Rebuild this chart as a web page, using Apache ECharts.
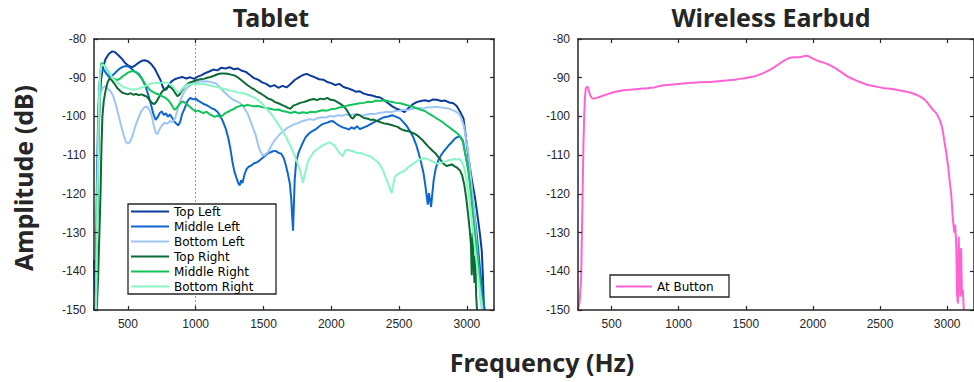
<!DOCTYPE html>
<html>
<head>
<meta charset="utf-8">
<script src="https://cdn.jsdelivr.net/npm/echarts@6.0.0/dist/echarts.min.js"></script>
<style>html,body{margin:0;padding:0;background:#fff}#c{width:974px;height:382px}</style>
</head>
<body>
<div id="c"></div>
<script>
const freqTicks = [500, 1000, 1500, 2000, 2500, 3000];
const seriesNamesTablet = ['Top Left', 'Middle Left', 'Bottom Left', 'Top Right', 'Middle Right', 'Bottom Right'];
const seriesNameEarbud = 'At Button';

const topLeft = [[250,-150],[262,-146],[272,-128],[282,-108],[292,-96],[302,-90.5],[315,-87.5],[335,-85.2],[360,-83.8],[385,-83.2],[405,-83.4],[430,-84.2],[455,-85.1],[480,-86.2],[505,-86.9],[530,-87.3],[555,-86.8],[580,-86.1],[605,-85.6],[625,-85.5],[650,-85.8],[675,-86.6],[700,-87.8],[720,-89.2],[740,-90.6],[755,-92.2],[770,-93.2],[785,-93.0],[800,-92.0],[820,-91.0],[845,-90.4],[870,-90.1],[900,-89.8],[930,-90.2],[960,-89.9],[990,-90.3],[1010,-89.8],[1040,-89.4],[1070,-88.8],[1100,-88.4],[1130,-87.9],[1160,-88.1],[1190,-87.4],[1220,-87.6],[1250,-87.3],[1280,-87.8],[1310,-87.6],[1340,-88.2],[1370,-88.5],[1400,-89.3],[1430,-90.1],[1460,-90.5],[1490,-91.2],[1520,-91.6],[1550,-92.3],[1580,-91.9],[1610,-92.6],[1640,-92.1],[1670,-92.5],[1700,-91.6],[1730,-90.6],[1760,-89.9],[1790,-89.3],[1820,-89.0],[1850,-89.5],[1880,-89.9],[1910,-90.4],[1940,-90.5],[1970,-91.1],[2000,-91.4],[2030,-91.9],[2060,-91.6],[2090,-92.4],[2120,-92.7],[2150,-93.1],[2180,-93.6],[2210,-93.5],[2240,-94.1],[2270,-94.4],[2300,-94.6],[2330,-94.9],[2360,-95.1],[2390,-95.8],[2420,-96.6],[2450,-97.4],[2480,-98.0],[2510,-98.3],[2540,-98.9],[2570,-97.8],[2600,-96.9],[2630,-96.3],[2660,-96.0],[2690,-95.8],[2720,-96.1],[2750,-95.6],[2780,-95.7],[2810,-96.0],[2840,-95.9],[2870,-96.4],[2900,-96.6],[2925,-97.3],[2950,-98.8],[2975,-100.5],[2995,-106],[3015,-111.5],[3035,-116],[3060,-121],[3080,-126],[3095,-130],[3110,-134.8],[3118,-141],[3125,-148.6],[3130,-150]];

const middleLeft = [[250,-137],[256,-149],[264,-138],[272,-115],[282,-98],[292,-91],[305,-88.2],[320,-87.8],[340,-88.9],[360,-89.8],[380,-89.6],[405,-88.8],[430,-87.9],[455,-87.3],[480,-87.0],[505,-87.1],[530,-87.8],[555,-88.5],[580,-89.0],[605,-90.3],[630,-92.2],[655,-95.0],[675,-97.6],[690,-99.6],[705,-100.9],[720,-100.2],[735,-99.1],[750,-98.7],[765,-99.6],[780,-99.2],[795,-100.1],[810,-99.5],[825,-100.3],[840,-101.2],[855,-101.8],[870,-102.3],[885,-101.5],[900,-99.4],[920,-97.8],[940,-96.0],[960,-95.2],[980,-95.6],[1000,-95.4],[1020,-96.0],[1040,-96.4],[1060,-96.8],[1080,-97.1],[1100,-97.5],[1120,-97.9],[1140,-98.2],[1160,-98.8],[1180,-99.8],[1200,-101.2],[1220,-103.0],[1240,-105.5],[1255,-108.2],[1270,-111.5],[1285,-114.2],[1300,-115.8],[1315,-117.3],[1325,-117.8],[1335,-116.5],[1345,-117.2],[1360,-115.0],[1375,-113.6],[1390,-113.0],[1410,-112.7],[1430,-112.1],[1450,-111.9],[1470,-111.4],[1490,-110.8],[1510,-110.2],[1530,-109.6],[1550,-109.3],[1570,-109.0],[1590,-108.9],[1610,-109.4],[1630,-109.6],[1650,-110.8],[1665,-112.6],[1680,-114.8],[1695,-117.5],[1705,-121.5],[1712,-126],[1718,-129.5],[1723,-124],[1730,-116.5],[1740,-112.0],[1755,-109.8],[1770,-108.4],[1790,-106.8],[1810,-105.4],[1830,-104.6],[1850,-104.0],[1870,-103.6],[1890,-103.2],[1910,-102.6],[1930,-102.1],[1950,-101.8],[1970,-101.6],[1990,-101.3],[2010,-101.2],[2030,-101.7],[2050,-102.2],[2070,-102.6],[2090,-102.9],[2110,-103.1],[2130,-103.4],[2150,-102.8],[2170,-103.2],[2190,-102.5],[2210,-103.3],[2230,-103.0],[2250,-102.7],[2270,-102.4],[2290,-102.0],[2310,-101.6],[2330,-101.2],[2350,-100.9],[2370,-100.5],[2390,-100.2],[2420,-100.0],[2450,-99.7],[2480,-100.1],[2505,-100.5],[2530,-101.4],[2555,-102.4],[2580,-103.8],[2605,-105.4],[2625,-107.2],[2645,-109.6],[2665,-112.3],[2680,-114.6],[2695,-118.2],[2705,-121.0],[2712,-122.8],[2720,-119.8],[2728,-121.5],[2736,-123.4],[2745,-120.0],[2755,-116.5],[2770,-113.5],[2790,-111.3],[2810,-110.0],[2830,-109.0],[2850,-108.2],[2870,-107.3],[2890,-106.6],[2910,-105.8],[2930,-105.3],[2950,-105.2],[2970,-106.2],[2990,-110],[3013,-114],[3040,-121],[3062,-127],[3080,-133],[3099,-140],[3112,-145],[3124,-148.6],[3132,-150]];

const bottomLeft = [[250,-146],[258,-150],[266,-140],[275,-118],[285,-100],[298,-94],[315,-92.6],[330,-92.2],[350,-92.8],[370,-93.4],[390,-94.6],[410,-96.8],[430,-99.6],[450,-102.4],[470,-105.0],[485,-106.6],[500,-107.0],[515,-106.6],[530,-105.4],[545,-103.7],[560,-102.0],[580,-100.2],[600,-98.6],[620,-97.7],[640,-97.4],[660,-98.4],[675,-99.8],[690,-102.2],[705,-104.2],[718,-104.6],[732,-103.4],[750,-102.4],[770,-101.6],[790,-101.9],[810,-101.2],[830,-101.5],[850,-100.3],[865,-98.4],[880,-96.5],[900,-94.7],[920,-93.3],[940,-92.5],[960,-92.0],[980,-91.6],[1000,-91.3],[1030,-91.0],[1060,-90.9],[1090,-91.0],[1120,-91.2],[1150,-91.5],[1175,-92.3],[1200,-93.3],[1225,-94.2],[1250,-95.0],[1275,-95.7],[1300,-96.1],[1325,-96.5],[1345,-97.2],[1365,-98.2],[1385,-99.4],[1405,-101.3],[1425,-103.2],[1445,-105.1],[1460,-107.3],[1475,-108.9],[1490,-109.9],[1505,-110.1],[1520,-109.6],[1535,-109.2],[1550,-108.1],[1570,-106.8],[1590,-105.8],[1610,-105.0],[1630,-104.3],[1650,-103.7],[1670,-103.1],[1690,-102.7],[1710,-102.3],[1730,-101.9],[1750,-101.8],[1780,-101.3],[1810,-101.0],[1840,-100.7],[1870,-100.9],[1900,-100.4],[1930,-100.2],[1960,-100.3],[1990,-99.9],[2020,-100.0],[2050,-99.7],[2080,-99.8],[2110,-99.5],[2140,-99.7],[2170,-99.4],[2200,-99.6],[2230,-99.8],[2260,-99.5],[2290,-99.3],[2320,-99.4],[2350,-99.1],[2380,-99.0],[2410,-98.8],[2440,-98.9],[2470,-98.6],[2500,-98.5],[2530,-98.3],[2560,-98.4],[2590,-98.1],[2620,-97.9],[2650,-97.8],[2680,-98.0],[2710,-97.6],[2740,-97.7],[2770,-97.5],[2800,-97.6],[2830,-97.8],[2860,-97.9],[2890,-98.3],[2915,-98.7],[2940,-99.2],[2960,-100.5],[2978,-102.5],[2995,-106],[3013,-110],[3030,-116],[3050,-123],[3070,-132],[3087,-140],[3099,-147],[3112,-150]];

const topRight = [[250,-150],[270,-150],[280,-142],[290,-130],[298,-120],[305,-108],[312,-100],[322,-96],[335,-93.4],[350,-91.2],[365,-90.2],[380,-90.6],[400,-91.5],[420,-92.6],[440,-93.3],[460,-93.9],[480,-94.1],[500,-94.3],[520,-94.0],[540,-94.4],[560,-94.2],[580,-94.5],[600,-94.3],[620,-94.6],[640,-94.9],[660,-95.8],[680,-96.6],[695,-96.8],[710,-96.2],[730,-95.0],[750,-93.7],[770,-93.0],[790,-92.5],[810,-92.3],[830,-92.9],[850,-94.0],[865,-94.8],[880,-94.4],[900,-93.2],[920,-92.2],[940,-91.6],[960,-91.2],[985,-90.9],[1010,-90.6],[1035,-90.4],[1060,-90.3],[1085,-90.0],[1110,-89.8],[1135,-89.5],[1160,-89.1],[1185,-88.9],[1210,-88.9],[1235,-89.0],[1260,-89.2],[1285,-89.4],[1310,-89.9],[1335,-90.6],[1360,-91.3],[1385,-92.0],[1410,-92.6],[1435,-93.1],[1460,-93.7],[1485,-94.2],[1510,-94.8],[1535,-95.4],[1560,-95.7],[1585,-96.3],[1610,-96.6],[1635,-97.0],[1660,-97.4],[1680,-97.8],[1700,-98.0],[1720,-97.2],[1745,-96.9],[1770,-96.5],[1795,-96.3],[1820,-96.0],[1845,-95.7],[1870,-95.5],[1895,-95.8],[1920,-95.4],[1945,-95.6],[1970,-95.2],[1995,-95.7],[2020,-95.8],[2045,-96.3],[2070,-96.8],[2095,-97.5],[2115,-98.4],[2130,-99.3],[2145,-100.2],[2160,-100.6],[2175,-99.8],[2190,-99.5],[2210,-99.7],[2230,-100.2],[2250,-100.5],[2270,-100.6],[2290,-100.9],[2310,-100.8],[2330,-101.1],[2350,-101.3],[2370,-101.6],[2390,-101.8],[2410,-101.9],[2430,-102.1],[2450,-102.3],[2470,-102.5],[2490,-102.7],[2510,-103.2],[2530,-103.5],[2550,-103.7],[2570,-103.8],[2590,-104.1],[2610,-104.4],[2630,-104.8],[2650,-105.4],[2670,-106.0],[2690,-106.8],[2710,-107.6],[2730,-108.3],[2750,-109.0],[2770,-109.6],[2790,-110.5],[2810,-111.4],[2830,-112.3],[2850,-112.8],[2870,-112.6],[2890,-112.4],[2910,-112.9],[2930,-113.3],[2950,-114.0],[2965,-115.2],[2980,-117.5],[2995,-121],[3008,-125],[3020,-129],[3030,-133],[3036,-141],[3042,-130],[3050,-138],[3056,-143],[3062,-136],[3068,-146],[3075,-150]];

const middleRight = [[250,-150],[265,-150],[273,-130],[282,-108],[290,-94],[298,-88],[305,-86.2],[320,-86.5],[340,-87.6],[360,-88.8],[380,-89.8],[400,-90.3],[420,-90.6],[440,-90.3],[460,-89.7],[480,-89.2],[500,-88.7],[520,-88.4],[540,-88.3],[560,-88.6],[580,-89.3],[600,-90.2],[620,-91.2],[640,-92.2],[660,-93.1],[680,-93.6],[700,-94.0],[720,-94.2],[740,-94.6],[760,-94.9],[780,-95.3],[800,-95.9],[815,-96.6],[830,-97.5],[845,-98.3],[860,-97.8],[880,-96.9],[900,-96.1],[920,-96.4],[940,-97.0],[960,-97.6],[980,-98.2],[1000,-98.7],[1020,-98.5],[1040,-98.9],[1060,-99.1],[1080,-98.8],[1100,-99.4],[1120,-99.7],[1140,-100.1],[1160,-99.8],[1180,-100.2],[1200,-99.7],[1220,-99.1],[1240,-98.8],[1260,-98.4],[1280,-98.1],[1300,-97.6],[1320,-97.4],[1340,-97.1],[1360,-97.3],[1380,-97.0],[1400,-97.2],[1430,-97.4],[1460,-97.3],[1490,-97.6],[1520,-97.8],[1550,-98.0],[1580,-98.3],[1610,-98.2],[1640,-98.6],[1670,-98.8],[1700,-99.1],[1730,-98.8],[1760,-99.2],[1790,-98.9],[1820,-99.1],[1850,-98.8],[1880,-98.9],[1910,-98.6],[1940,-98.4],[1970,-98.5],[2000,-98.1],[2030,-98.0],[2060,-97.7],[2090,-97.5],[2120,-97.2],[2150,-97.0],[2180,-96.8],[2210,-96.6],[2240,-96.5],[2270,-96.2],[2300,-96.3],[2330,-95.9],[2360,-96.0],[2390,-95.8],[2420,-96.1],[2450,-96.3],[2480,-96.5],[2510,-96.6],[2540,-96.9],[2570,-97.2],[2600,-97.5],[2630,-97.9],[2660,-98.3],[2690,-98.6],[2720,-99.3],[2750,-99.9],[2780,-100.6],[2810,-101.2],[2840,-102.0],[2870,-102.8],[2900,-103.6],[2930,-104.4],[2950,-105.2],[2970,-106.5],[2990,-110],[3010,-114],[3030,-120],[3046,-126],[3065,-132],[3083,-138],[3098,-143],[3108,-146.6],[3118,-150]];

const bottomRight = [[250,-150],[265,-150],[272,-132],[280,-110],[288,-95],[296,-89],[305,-86.8],[318,-86.6],[335,-87.4],[355,-88.3],[375,-89.4],[395,-90.3],[415,-91.0],[435,-91.6],[455,-92.1],[475,-92.5],[495,-92.7],[515,-92.9],[535,-93.1],[555,-93.0],[575,-92.9],[595,-92.6],[615,-92.4],[635,-92.0],[655,-91.7],[675,-91.5],[695,-91.4],[715,-91.3],[735,-91.4],[755,-91.2],[775,-91.3],[795,-91.3],[815,-91.8],[835,-92.4],[855,-93.3],[870,-93.9],[885,-93.6],[900,-92.9],[920,-92.2],[940,-91.8],[960,-91.7],[985,-91.6],[1010,-91.6],[1035,-91.7],[1060,-91.6],[1085,-91.9],[1110,-92.0],[1135,-92.3],[1160,-92.4],[1185,-92.7],[1210,-92.9],[1235,-93.1],[1260,-93.4],[1285,-93.5],[1310,-93.8],[1335,-93.9],[1360,-94.1],[1385,-94.4],[1410,-94.8],[1435,-95.2],[1460,-95.8],[1480,-96.4],[1500,-97.1],[1520,-97.9],[1540,-98.7],[1560,-99.5],[1580,-100.5],[1600,-101.6],[1620,-102.6],[1640,-103.7],[1660,-104.9],[1680,-106.3],[1700,-107.7],[1720,-109.3],[1740,-111.0],[1755,-112.5],[1770,-114.0],[1783,-116.0],[1792,-117.2],[1800,-115.6],[1812,-113.9],[1825,-112.0],[1840,-110.7],[1855,-110.1],[1870,-109.2],[1890,-108.6],[1910,-108.1],[1930,-107.7],[1950,-107.3],[1970,-106.9],[1990,-106.7],[2010,-107.2],[2025,-107.5],[2040,-108.4],[2055,-109.2],[2070,-109.8],[2085,-110.3],[2100,-108.9],[2120,-108.6],[2140,-108.8],[2160,-109.0],[2180,-109.3],[2200,-109.5],[2220,-109.4],[2240,-109.8],[2260,-110.0],[2280,-110.2],[2300,-110.6],[2320,-111.2],[2340,-111.7],[2360,-112.6],[2375,-113.5],[2390,-114.7],[2405,-116.1],[2420,-117.4],[2435,-118.8],[2445,-119.8],[2455,-118.0],[2468,-115.6],[2485,-115.1],[2505,-114.6],[2525,-114.3],[2545,-113.9],[2565,-113.2],[2585,-112.7],[2605,-112.2],[2625,-111.7],[2645,-111.2],[2665,-111.0],[2685,-110.8],[2705,-110.9],[2725,-111.3],[2745,-111.6],[2765,-111.9],[2785,-112.2],[2805,-112.0],[2825,-111.8],[2845,-111.6],[2865,-111.3],[2885,-111.2],[2905,-111.0],[2925,-111.1],[2945,-111.0],[2965,-111.8],[2985,-113.8],[3003,-118],[3022,-122.4],[3040,-128],[3058,-133.6],[3076,-139],[3095,-144.8],[3108,-148],[3115,-150]];

const atButton = [[250,-150],[262,-148],[274,-141.4],[279,-130],[284,-120.7],[290,-108],[296,-100],[302,-95],[308,-92.8],[316,-92.3],[324,-92.5],[332,-93.5],[342,-94.6],[355,-95.3],[370,-95.4],[390,-95.2],[415,-94.9],[440,-94.6],[465,-94.3],[490,-94.0],[520,-93.7],[550,-93.5],[580,-93.3],[610,-93.2],[640,-93.1],[670,-93.0],[700,-92.9],[730,-92.8],[760,-92.8],[790,-92.6],[820,-92.5],[850,-92.2],[880,-92.0],[910,-91.9],[940,-91.8],[970,-91.7],[1000,-91.6],[1030,-91.5],[1060,-91.4],[1090,-91.3],[1120,-91.3],[1150,-91.2],[1180,-91.2],[1210,-91.1],[1240,-91.1],[1270,-91.0],[1300,-90.9],[1330,-90.8],[1360,-90.7],[1390,-90.6],[1420,-90.5],[1450,-90.3],[1480,-90.2],[1510,-90.0],[1540,-89.8],[1570,-89.6],[1600,-89.2],[1630,-88.8],[1660,-88.3],[1690,-87.8],[1720,-87.1],[1750,-86.4],[1780,-85.7],[1810,-85.1],[1840,-84.8],[1870,-84.7],[1900,-84.7],[1920,-84.6],[1945,-84.3],[1965,-84.4],[1990,-84.9],[2020,-85.4],[2050,-85.8],[2080,-86.1],[2110,-86.5],[2140,-87.0],[2170,-87.6],[2200,-88.3],[2230,-89.0],[2260,-89.7],[2290,-90.2],[2320,-90.7],[2350,-91.1],[2380,-91.5],[2410,-91.9],[2440,-92.1],[2470,-92.3],[2500,-92.5],[2530,-92.7],[2560,-92.8],[2590,-92.9],[2620,-93.1],[2650,-93.3],[2680,-93.5],[2710,-93.7],[2740,-94.0],[2770,-94.4],[2800,-94.9],[2830,-95.6],[2850,-96.3],[2870,-97.2],[2885,-97.9],[2900,-98.5],[2920,-99.2],[2945,-100.9],[2960,-102.5],[2970,-104.3],[2982,-107],[2994,-109.5],[3008,-113],[3018,-116.4],[3030,-120],[3043,-126.7],[3054,-130],[3060,-128],[3068,-133.6],[3074,-146],[3080,-148.3],[3086,-131],[3092,-140],[3098,-146.6],[3104,-134],[3110,-146],[3117,-144.8],[3124,-150]];

const tabletColors = ['#0b3c9d', '#0f66cc', '#9cc7f4', '#0b6b34', '#12c45c', '#8cf5c6'];
const earbudColor = '#ff63d2';

const AX = '#262626';
const tickFont = {fontFamily: 'Liberation Sans, Arial, sans-serif', fontSize: 12, color: AX};

function xAx(grid, pos) {
  const bottom = pos === 'bottom';
  return {
    type: 'value', gridIndex: grid, position: pos, min: 250, max: 3200, z: 8,
    axisLine: {onZero: false, lineStyle: {color: AX, width: 1.5}},
    axisTick: {inside: true, length: 4, customValues: freqTicks, lineStyle: {color: AX, width: 1.2}},
    axisLabel: Object.assign({show: bottom, customValues: freqTicks, margin: 8, formatter: v => String(v)}, tickFont),
    splitLine: {show: false}
  };
}
function yAx(grid, pos) {
  const left = pos === 'left';
  return {
    type: 'value', gridIndex: grid, position: pos, min: -150, max: -80, interval: 10, z: 8,
    axisLine: {onZero: false, lineStyle: {color: AX, width: 1.5}},
    axisTick: {inside: true, length: 4, lineStyle: {color: AX, width: 1.2}},
    axisLabel: Object.assign({show: left, margin: 8, formatter: v => String(v)}, tickFont),
    splitLine: {show: false}
  };
}
function line(name, data, ax, color) {
  return {
    type: 'line', name: name, data: data, xAxisIndex: ax, yAxisIndex: ax,
    symbol: 'none', showSymbol: false, animation: false,
    lineStyle: {width: 2, color: color}, itemStyle: {color: color}, z: 2
  };
}

const tabletData = [topLeft, middleLeft, bottomLeft, topRight, middleRight, bottomRight];
const series = tabletData.map((d, i) => line(seriesNamesTablet[i], d, 0, tabletColors[i]));
series[0].markLine = {
  silent: true, symbol: ['none', 'none'], animation: false, z: 1,
  label: {show: false},
  lineStyle: {type: [2, 2], color: '#9a9a9a', width: 1},
  data: [{xAxis: 1000}]
};
series.push(line(seriesNameEarbud, atButton, 2, earbudColor));

const legendText = {fontFamily: 'DejaVu Sans, sans-serif', fontSize: 12, color: '#000', lineHeight: 15};

const chart = echarts.init(document.getElementById('c'), null, {renderer: 'svg', width: 974, height: 382});
chart.setOption({
  animation: false,
  backgroundColor: '#fff',
  grid: [
    {left: 94, top: 39, width: 400, height: 271},
    {left: 578, top: 39, width: 400, height: 271}
  ],
  xAxis: [xAx(0, 'bottom'), xAx(0, 'top'), xAx(1, 'bottom'), xAx(1, 'top')],
  yAxis: [yAx(0, 'left'), yAx(0, 'right'), yAx(1, 'left'), yAx(1, 'right')],
  legend: [
    {
      data: seriesNamesTablet, orient: 'vertical', left: 128, top: 204, z: 10,
      icon: 'rect', itemWidth: 38, itemHeight: 2, itemGap: 0,
      padding: [0, 3, 0, 3], backgroundColor: '#fff', borderColor: AX, borderWidth: 1.3,
      selectedMode: false, textStyle: Object.assign({width: 99}, legendText)
    },
    {
      data: [seriesNameEarbud], orient: 'vertical', left: 610, top: 275, z: 10,
      icon: 'rect', itemWidth: 36, itemHeight: 2, itemGap: 0,
      padding: [4, 2, 3, 6], backgroundColor: '#fff', borderColor: AX, borderWidth: 1.3,
      selectedMode: false, textStyle: Object.assign({width: 70}, legendText)
    }
  ],
  graphic: [
    {type: 'text', x: 271, y: 17, style: {text: 'Tablet', font: 'bold 25px "Noto Sans", sans-serif', fill: AX, textAlign: 'center', textVerticalAlign: 'middle'}},
    {type: 'text', x: 771, y: 17, style: {text: 'Wireless Earbud', font: 'bold 25px "Noto Sans", sans-serif', fill: AX, textAlign: 'center', textVerticalAlign: 'middle'}},
    {type: 'text', x: 542, y: 362, style: {text: 'Frequency (Hz)', font: 'bold 25px "Noto Sans", sans-serif', fill: AX, textAlign: 'center', textVerticalAlign: 'middle'}},
    {type: 'text', x: 23, y: 178, rotation: Math.PI / 2, style: {text: 'Amplitude (dB)', font: 'bold 25px "Noto Sans", sans-serif', fill: AX, textAlign: 'center', textVerticalAlign: 'middle'}}
  ],
  series: series
});
</script>
</body>
</html>
